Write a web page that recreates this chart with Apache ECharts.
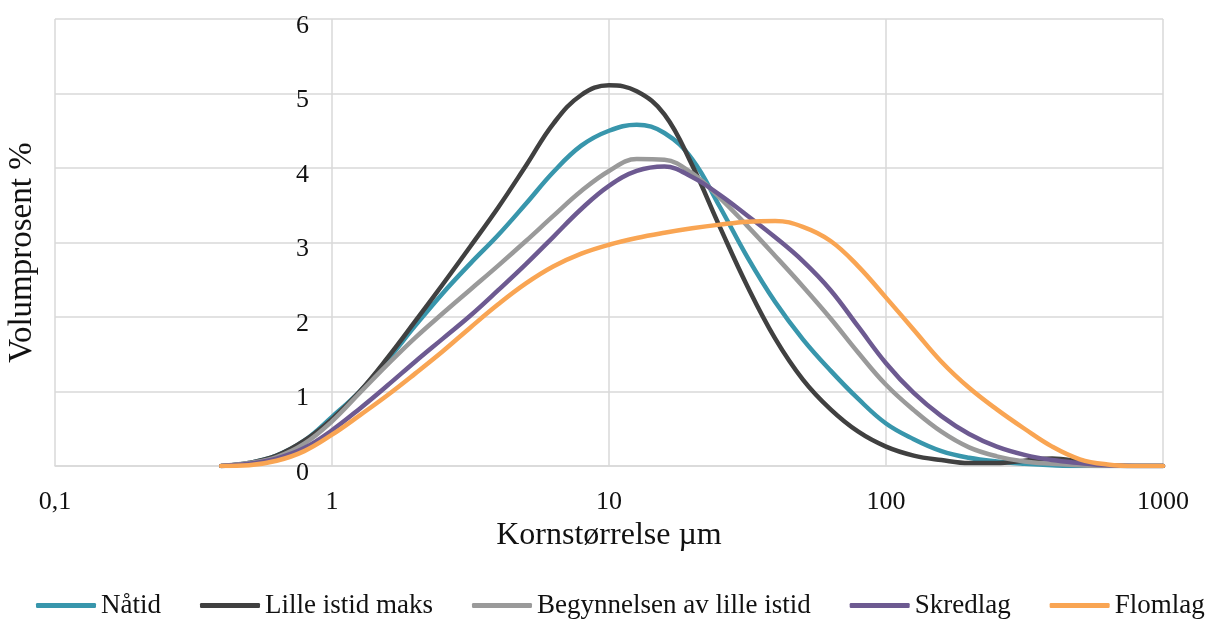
<!DOCTYPE html>
<html>
<head>
<meta charset="utf-8">
<script src="https://cdn.jsdelivr.net/npm/echarts@6/dist/echarts.min.js"></script>
<style>
html,body{margin:0;padding:0;background:#fff;}
#chart{width:1216px;height:619px;}
</style>
</head>
<body>
<div id="chart"></div>
<script>
// Grain sizes (µm), laser-diffraction style bins
const sizes = [0.398, 0.501, 0.631, 0.794, 1, 1.259, 1.585, 1.995, 2.512, 3.162, 3.981, 5.012, 6.31, 7.943, 10, 12.59, 15.85, 19.95, 25.12, 31.62, 39.81, 50.12, 63.1, 79.43, 100, 125.9, 158.5, 199.5, 251.2, 316.2, 398.1, 501.2, 631, 794.3, 1000];

const seriesNames = ['Nåtid', 'Lille istid maks', 'Begynnelsen av lille istid', 'Skredlag', 'Flomlag'];

const natid          = [0, 0.04, 0.14, 0.34, 0.66, 1.0, 1.42, 1.88, 2.32, 2.72, 3.1, 3.52, 3.95, 4.3, 4.5, 4.58, 4.47, 4.12, 3.48, 2.8, 2.2, 1.7, 1.28, 0.9, 0.57, 0.36, 0.2, 0.11, 0.06, 0.03, 0.01, 0, 0, 0, 0];
const lilleIstidMaks = [0, 0.04, 0.14, 0.34, 0.63, 1.0, 1.45, 1.94, 2.44, 2.95, 3.47, 4.03, 4.6, 4.98, 5.11, 5.03, 4.72, 4.04, 3.21, 2.41, 1.71, 1.16, 0.76, 0.46, 0.26, 0.14, 0.08, 0.04, 0.04, 0.07, 0.1, 0.06, 0.01, 0, 0];
const begynnelsen    = [0, 0.04, 0.12, 0.3, 0.6, 0.98, 1.36, 1.72, 2.05, 2.37, 2.69, 3.02, 3.36, 3.69, 3.96, 4.12, 4.11, 3.93, 3.6, 3.22, 2.82, 2.41, 1.98, 1.52, 1.09, 0.75, 0.46, 0.25, 0.13, 0.06, 0.03, 0.01, 0, 0, 0];
const skredlag       = [0, 0.03, 0.1, 0.24, 0.48, 0.77, 1.08, 1.4, 1.71, 2.02, 2.36, 2.71, 3.08, 3.45, 3.76, 3.96, 4.02, 3.88, 3.64, 3.36, 3.07, 2.75, 2.36, 1.87, 1.38, 0.98, 0.67, 0.43, 0.26, 0.15, 0.08, 0.04, 0.01, 0, 0];
const flomlag        = [0, 0.01, 0.07, 0.2, 0.42, 0.68, 0.95, 1.24, 1.54, 1.86, 2.17, 2.45, 2.68, 2.85, 2.97, 3.06, 3.13, 3.19, 3.24, 3.28, 3.29, 3.21, 3.02, 2.68, 2.26, 1.83, 1.4, 1.05, 0.76, 0.5, 0.26, 0.09, 0.02, 0, 0];

const xTicks = [0.1, 1, 10, 100, 1000];
const yTicks = [0, 1, 2, 3, 4, 5, 6];

const colors = ['#3896AC', '#404040', '#9A9A9A', '#6D5A91', '#F9A553'];
const allValues = [natid, lilleIstidMaks, begynnelsen, skredlag, flomlag];

const font = 'Liberation Serif, Times New Roman, serif';
const chart = echarts.init(document.getElementById('chart'));

const series = allValues.map((vals, i) => ({
  name: seriesNames[i],
  type: 'line',
  data: sizes.map((s, k) => [s, vals[k]]),
  smooth: 0.4,
  symbol: 'none',
  lineStyle: { width: 4.5, color: colors[i], cap: 'round', join: 'round' },
  itemStyle: { color: colors[i] },
  z: 2 + i
}));

chart.setOption({
  animation: false,
  backgroundColor: '#fff',
  textStyle: { fontFamily: font },
  grid: { left: 55, right: 53, top: 19, bottom: 153, containLabel: false, outerBoundsMode: 'none' },
  xAxis: {
    type: 'log',
    logBase: 10,
    min: xTicks[0],
    max: xTicks[xTicks.length - 1],
    name: 'Kornstørrelse µm',
    nameLocation: 'middle',
    nameGap: 54,
    nameTextStyle: { fontSize: 32, color: '#111', fontFamily: font },
    axisLine: { show: true, lineStyle: { color: '#D9D9D9', width: 1.5 } },
    axisTick: { show: false },
    axisLabel: {
      fontSize: 26, color: '#111', fontFamily: font, margin: 23,
      formatter: v => String(v).replace('.', ',')
    },
    splitLine: { show: true, lineStyle: { color: '#D9D9D9', width: 1.5 } },
    minorTick: { show: false }
  },
  yAxis: {
    type: 'value',
    min: yTicks[0],
    max: yTicks[yTicks.length - 1],
    interval: 1,
    offset: -276,
    name: 'Volumprosent %',
    nameLocation: 'middle',
    nameGap: 292,
    nameRotate: 90,
    nameTextStyle: { fontSize: 33, color: '#111', fontFamily: font, padding: [0, 20, 0, 0] },
    axisLine: { show: false },
    axisTick: { show: false },
    axisLabel: { fontSize: 26, color: '#111', fontFamily: font, margin: 22, verticalAlign: 'top', lineHeight: 14 },
    splitLine: { show: true, lineStyle: { color: '#D9D9D9', width: 1.5 } }
  },
  legend: {
    data: seriesNames.map(n => ({ name: n, icon: 'roundRect' })),
    left: 31,
    top: 587,
    itemWidth: 60,
    itemHeight: 5,
    itemGap: 39,
    textStyle: { fontSize: 27, color: '#111', fontFamily: font }
  },
  series: series
});
</script>
</body>
</html>
